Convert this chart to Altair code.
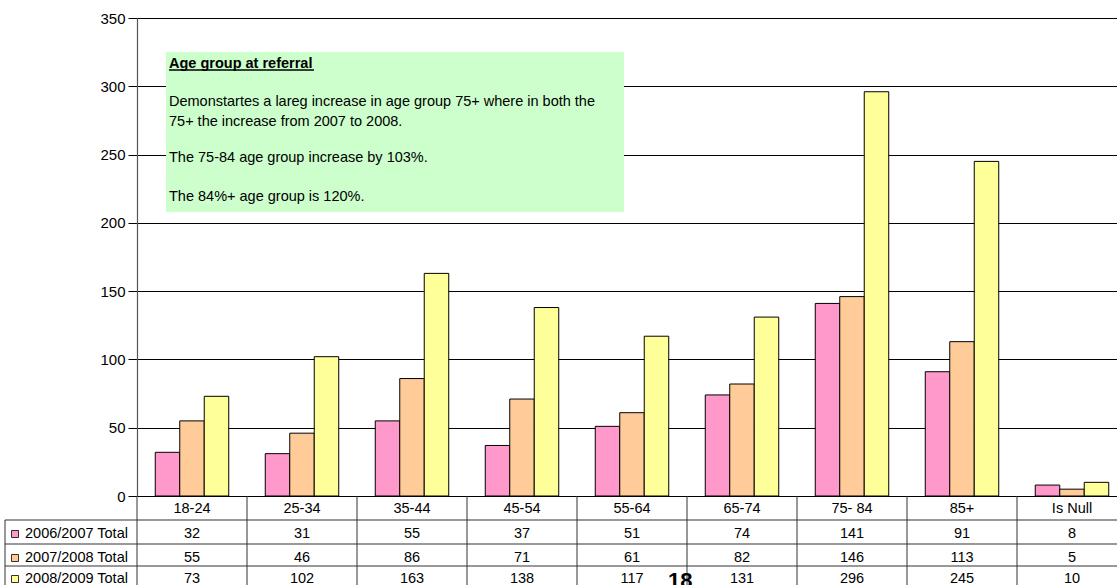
import altair as alt
import pandas as pd

# Referrals by age group, three financial years
age_groups = ["18-24", "25-34", "35-44", "45-54", "55-64", "65-74", "75- 84", "85+", "Is Null"]
series = ["2006/2007 Total", "2007/2008 Total", "2008/2009 Total"]
totals_0607 = [32, 31, 55, 37, 51, 74, 141, 91, 8]
totals_0708 = [55, 46, 86, 71, 61, 82, 146, 113, 5]
totals_0809 = [73, 102, 163, 138, 117, 131, 296, 245, 10]
series_colors = ["#FF99CC", "#FFCC99", "#FFFF99"]
y_ticks = [0, 50, 100, 150, 200, 250, 300, 350]

note_title = "Age group at referral"
note_lines = [
    "Demonstartes a lareg increase in age group 75+ where in both the",
    "75+ the increase from 2007 to 2008.",
    "The 75-84 age group increase by 103%.",
    "The 84%+ age group is 120%.",
]
page_number = "18"

# ---- layout (pixels, relative to the plot area) ----
W, H = 980, 478
STEP = 110
FONT = "Liberation Sans"
LINE = "#333333"
table_rows_y = [516, 540, 561]      # centre of each data-table row
table_lines_y = [502, 526, 548]     # horizontal rules of the table
header_y = 491
note_lines_y = [84, 104, 140, 179]
NOTE_FS = 14.5

rows = []
for s, vals in zip(series, [totals_0607, totals_0708, totals_0809]):
    for g, v in zip(age_groups, vals):
        rows.append({"group": g, "series": s, "value": v})
df = pd.DataFrame(rows)
groups_df = pd.DataFrame({"group": age_groups})
series_df = pd.DataFrame({"series": series})
one = pd.DataFrame({"k": [0]})

x_scale = alt.Scale(domain=age_groups, range=[0, STEP * len(age_groups)],
                    paddingInner=0, paddingOuter=0)
x_enc = alt.X("group:N", sort=age_groups, scale=x_scale, axis=None)
color_scale = alt.Scale(domain=series, range=series_colors)

bars = alt.Chart(df).mark_bar(stroke="black", strokeWidth=1).encode(
    x=x_enc,
    xOffset=alt.XOffset("series:N", sort=series,
                        scale=alt.Scale(domain=series, paddingInner=0, paddingOuter=0.745)),
    y=alt.Y("value:Q",
            scale=alt.Scale(domain=[0, 350], nice=False, zero=True),
            axis=alt.Axis(values=y_ticks, title=None, grid=True, gridColor="black",
                          gridWidth=1, labelFontSize=15, labelColor="black",
                          tickColor="black", tickSize=9, labelPadding=3,
                          domainColor="#555555", domainWidth=1.2)),
    color=alt.Color("series:N", scale=color_scale, legend=None),
)

# Note box
note_box = alt.Chart(one).mark_rect(fill="#CCFFCC").encode(
    x=alt.value(29), x2=alt.value(487), y=alt.value(34), y2=alt.value(194)
)
note_head = alt.Chart(one).mark_text(
    text=note_title, align="left", baseline="middle", fontSize=NOTE_FS,
    fontWeight="bold", color="black", font=FONT
).encode(x=alt.value(32), y=alt.value(46))
note_underline = alt.Chart(one).mark_rule(color="black", strokeWidth=1.3).encode(
    x=alt.value(32), x2=alt.value(177), y=alt.value(52)
)
note_text = [
    alt.Chart(one).mark_text(text=t, align="left", baseline="middle", fontSize=NOTE_FS,
                             color="black", font=FONT).encode(x=alt.value(32), y=alt.value(yy))
    for t, yy in zip(note_lines, note_lines_y)
]

# Data table under the plot
header = alt.Chart(groups_df).mark_text(fontSize=14.5, color="black", font=FONT,
                                        baseline="middle").encode(
    x=x_enc, y=alt.value(header_y), text="group:N"
)
cells = [
    alt.Chart(df).transform_filter(alt.datum.series == s).mark_text(
        fontSize=14.5, color="black", font=FONT, baseline="middle"
    ).encode(x=x_enc, y=alt.value(yy), text="value:Q")
    for s, yy in zip(series, table_rows_y)
]
col_rules = alt.Chart(groups_df).mark_rule(color=LINE, strokeWidth=1).encode(
    x=alt.X("group:N", sort=age_groups, scale=x_scale, axis=None, bandPosition=0),
    y=alt.value(H), y2=alt.value(H + 120),
)
row_rules = [
    alt.Chart(one).mark_rule(color=LINE, strokeWidth=1).encode(
        x=alt.value(-132), x2=alt.value(W), y=alt.value(yy))
    for yy in table_lines_y
]
left_rule = alt.Chart(one).mark_rule(color=LINE, strokeWidth=1).encode(
    x=alt.value(-132), y=alt.value(table_lines_y[0]), y2=alt.value(H + 120)
)
legend_marks = []
for s, yy in zip(series, table_rows_y):
    legend_marks.append(
        alt.Chart(series_df).transform_filter(alt.datum.series == s).mark_square(
            size=49, stroke="black", strokeWidth=0.8, opacity=1
        ).encode(x=alt.value(-122), y=alt.value(yy),
                 fill=alt.Fill("series:N", scale=color_scale, legend=None))
    )
    legend_marks.append(
        alt.Chart(series_df).transform_filter(alt.datum.series == s).mark_text(
            align="left", baseline="middle", fontSize=14.5, color="black", font=FONT
        ).encode(x=alt.value(-112), y=alt.value(yy), text="series:N")
    )

page = alt.Chart(one).mark_text(
    text=page_number, align="left", baseline="alphabetic", fontSize=22,
    fontWeight="bold", color="black", font=FONT
).encode(x=alt.value(531), y=alt.value(570))

chart = alt.layer(
    bars, note_box, note_head, note_underline, *note_text,
    header, *cells, col_rules, *row_rules, left_rule, *legend_marks, page
).properties(
    width=W, height=H,
    autosize=alt.AutoSizeParams(type="none"),
    padding={"left": 137, "top": 18, "right": 0, "bottom": 89},
    background="white",
).configure_view(fill="#C0C0C0", stroke=None).configure(font=FONT)

chart.save("out.html", embed_options={"renderer": "svg", "actions": False})
